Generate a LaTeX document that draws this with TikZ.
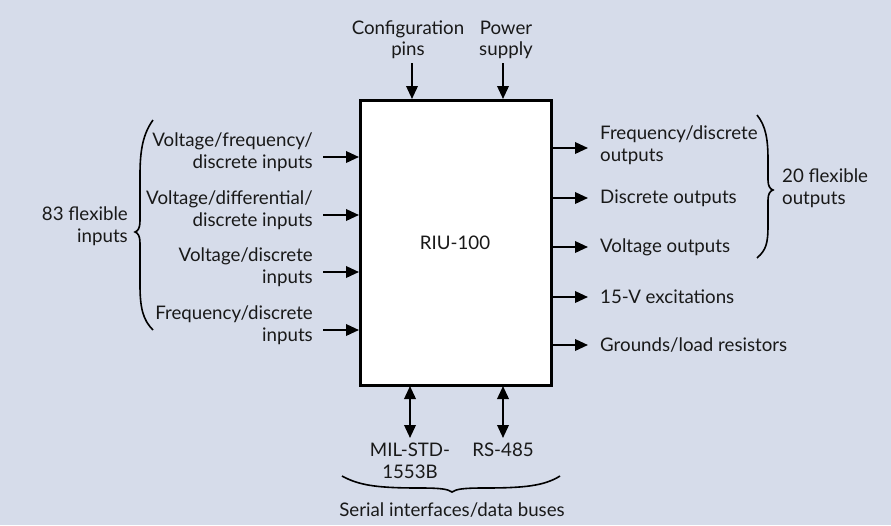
\documentclass[tikz,border=0pt]{standalone}
\usepackage{fontspec}
\setmainfont{Lato}
\usetikzlibrary{arrows.meta}
\definecolor{bg}{RGB}{214,220,234}
\tikzset{
  lbl/.style={font=\fontsize{18.7}{21.5}\selectfont, inner sep=0pt, text=black!90},
  arr/.style={line width=2pt, -{Triangle[length=13pt,width=11.5pt]}},
  darr/.style={line width=2pt, {Triangle[length=13pt,width=11.5pt]}-{Triangle[length=13pt,width=11.5pt]}},
  brace/.style={line width=1.6pt},
}
\begin{document}
\begin{tikzpicture}[x=1pt,y=-1pt]
\fill[bg] (0,0) rectangle (891,525);
\useasboundingbox (0,0) rectangle (891,525);
% main box
\node[draw, line width=3pt, fill=white, minimum width=191pt, minimum height=285pt, inner sep=0pt] (riu) at (455.5,242.5) {};
\node[lbl] (riut) at (455,243) {RIU-100};
% top
\node[lbl, align=center, anchor=south] (cfg) at (408,59) {Configuration\\pins};
\node[lbl, align=center, anchor=south] (pwr) at (506,59) {Power\\supply};
\coordinate (cfgs) at (412,63); \coordinate (cfge) at (412,99);
\coordinate (pwrs) at (503,63); \coordinate (pwre) at (503,99);
\draw[arr] (cfgs) -- (cfge);
\draw[arr] (pwrs) -- (pwre);
% left inputs
\foreach \n/\y/\t in {i1/157/{Voltage/frequency/\\discrete inputs},
                      i2/215/{Voltage/differential/\\discrete inputs},
                      i3/272/{Voltage/discrete\\inputs},
                      i4/330/{Frequency/discrete\\inputs}}{
  \node[lbl, align=right, anchor=east] (\n) at (313,\y-5) {\t};
  \coordinate (\n s) at (323,\y);
  \coordinate (\n e) at (359,\y);
  \draw[arr] (\n s) -- (\n e);
}
% left brace
\draw[brace] (153,120) .. controls (143,134) and (140,150) .. (140,175) -- (140,221)
  .. controls (140,228) and (138,231) .. (135,232)
  .. controls (138,233) and (140,236) .. (140,243) -- (140,285)
  .. controls (140,308) and (143,320) .. (153,330);
\node[lbl, align=right, anchor=east] (in83) at (128,226) {83 flexible\\inputs};
% right outputs
\node[lbl, align=left, anchor=west] (o1) at (600,145) {Frequency/discrete\\outputs};
\coordinate (o1s) at (553,148); \coordinate (o1e) at (588,148);
\draw[arr] (o1s) -- (o1e);
\foreach \n/\y/\t in {o2/198/{Discrete outputs},
                      o3/247/{Voltage outputs},
                      o4/297/{15-V excitations},
                      o5/345/{Grounds/load resistors}}{
  \node[lbl, anchor=west] (\n) at (600,\y) {\t};
  \coordinate (\n s) at (553,\y);
  \coordinate (\n e) at (588,\y);
  \draw[arr] (\n s) -- (\n e);
}
% right brace
\draw[brace] (757,115) .. controls (766,126) and (768,140) .. (768,160) -- (768,180)
  .. controls (768,186) and (770,189) .. (773,190)
  .. controls (770,191) and (768,194) .. (768,200) -- (768,225)
  .. controls (768,244) and (766,250) .. (757,258);
\node[lbl, align=left, anchor=west] (out20) at (782,188) {20 flexible\\outputs};
% bottom
\coordinate (b1s) at (410,386); \coordinate (b1e) at (410,438);
\coordinate (b2s) at (503,386); \coordinate (b2e) at (503,438);
\draw[darr] (b1s) -- (b1e);
\draw[darr] (b2s) -- (b2e);
\node[lbl, align=center, anchor=north] (mil) at (410,443) {MIL-STD-\\1553B};
\node[lbl, anchor=north] (rs) at (503,443) {RS-485};
\draw[brace] (342,476) .. controls (360,486) and (380,488) .. (420,488)
  .. controls (440,488) and (448,489) .. (452,492)
  .. controls (456,489) and (464,488) .. (484,488)
  .. controls (524,488) and (544,486) .. (560,476);
\node[lbl] (ser) at (452,510) {Serial interfaces/data buses};
\end{tikzpicture}
\end{document}
